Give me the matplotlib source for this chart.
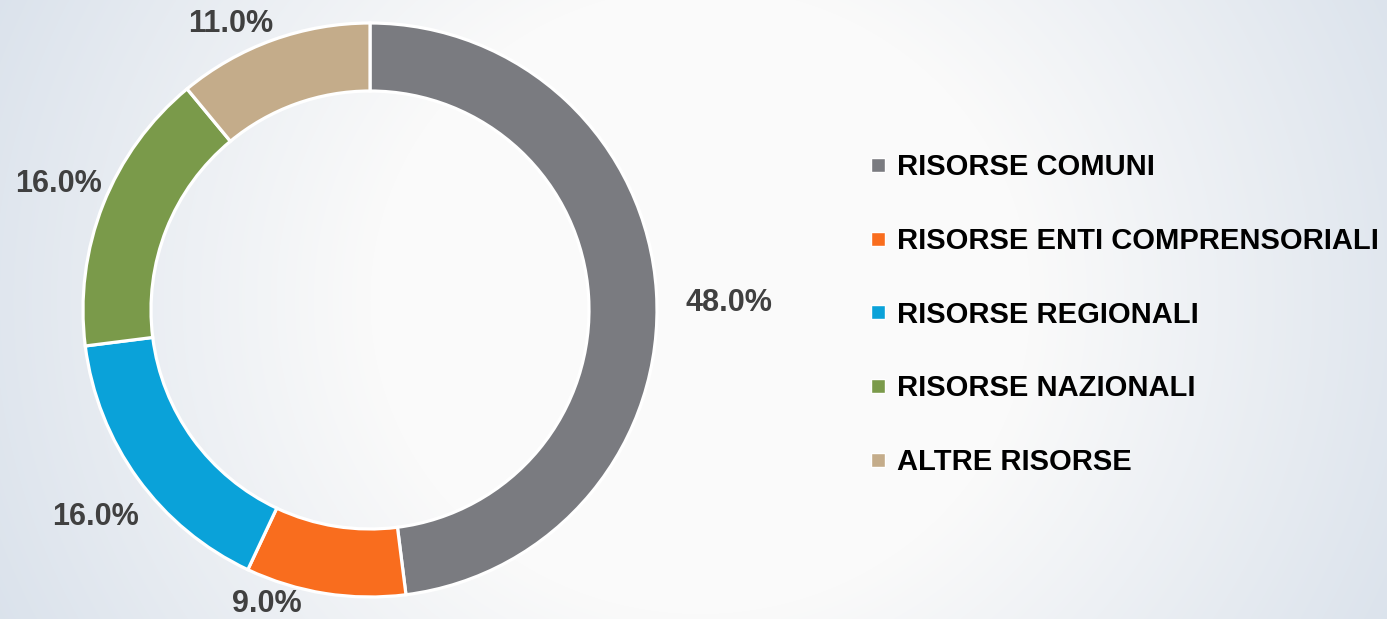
import numpy as np
import matplotlib
matplotlib.use('Agg')
import matplotlib.pyplot as plt
from matplotlib.lines import Line2D

# dati
categorie = ['RISORSE COMUNI', 'RISORSE ENTI COMPRENSORIALI', 'RISORSE REGIONALI',
             'RISORSE NAZIONALI', 'ALTRE RISORSE']
quote = [48.0, 9.0, 16.0, 16.0, 11.0]
colori = ['#7a7b80', '#f96d1e', '#0aa2d9', '#7a9a4a', '#c4ac8a']

# posizioni delle etichette (unita' del raggio esterno)
pos_etichette = [(1.251, 0.024), (-0.36, -1.025), (-0.958, -0.72),
                 (-1.085, 0.44), (-0.487, 0.995)]

plt.rcParams['font.family'] = ['Liberation Sans', 'DejaVu Sans']

W, H = 1387, 619
fig = plt.figure(figsize=(W / 100, H / 100), dpi=100)

# sfondo sfumato radiale
bg = fig.add_axes([0, 0, 1, 1], zorder=0)
yy, xx = np.mgrid[0:H, 0:W]
r = np.hypot((xx - 700) / 1.0, (yy - 300) / 0.95)
t = np.clip((r - 330) / 470, 0, 1)
c0 = np.array([250, 250, 250]) / 255
c1 = np.array([217, 225, 235]) / 255
img = c0[None, None, :] * (1 - t[..., None]) + c1[None, None, :] * t[..., None]
bg.imshow(img, aspect='auto', extent=[0, W, H, 0])
bg.axis('off')

# ciambella
R = 287.0
cx, cy = 370.0, 310.0
ax = fig.add_axes([0, 0, 1, 1], zorder=1)
ax.patch.set_alpha(0)
wedges, _ = ax.pie(quote, colors=colori, startangle=90, counterclock=False,
                   radius=1.0,
                   wedgeprops=dict(width=0.237, edgecolor='white', linewidth=2.3))
ax.set_xlim(-cx / R, (W - cx) / R)
ax.set_ylim(-(H - cy) / R, cy / R)
ax.set_aspect('equal')
ax.axis('off')

for q, (x, y) in zip(quote, pos_etichette):
    ax.text(x, y, f'{q:.1f}%', ha='center', va='center', fontsize=22,
            fontweight='bold', color='#404040')

# legenda
handles = [Line2D([], [], linestyle='none', marker='s', markersize=10,
                  markerfacecolor=c, markeredgecolor='white', markeredgewidth=1)
           for c in colori]
leg = fig.legend(handles, categorie, loc='upper left',
                 bbox_to_anchor=(869 / W, 1 - 153 / H), frameon=False,
                 prop=dict(size=21, weight='bold'), labelspacing=1.57,
                 handlelength=0.6, handletextpad=0.35, borderpad=0, borderaxespad=0)
for txt in leg.get_texts():
    txt.set_color('black')

fig.savefig('out.png', dpi=100)
